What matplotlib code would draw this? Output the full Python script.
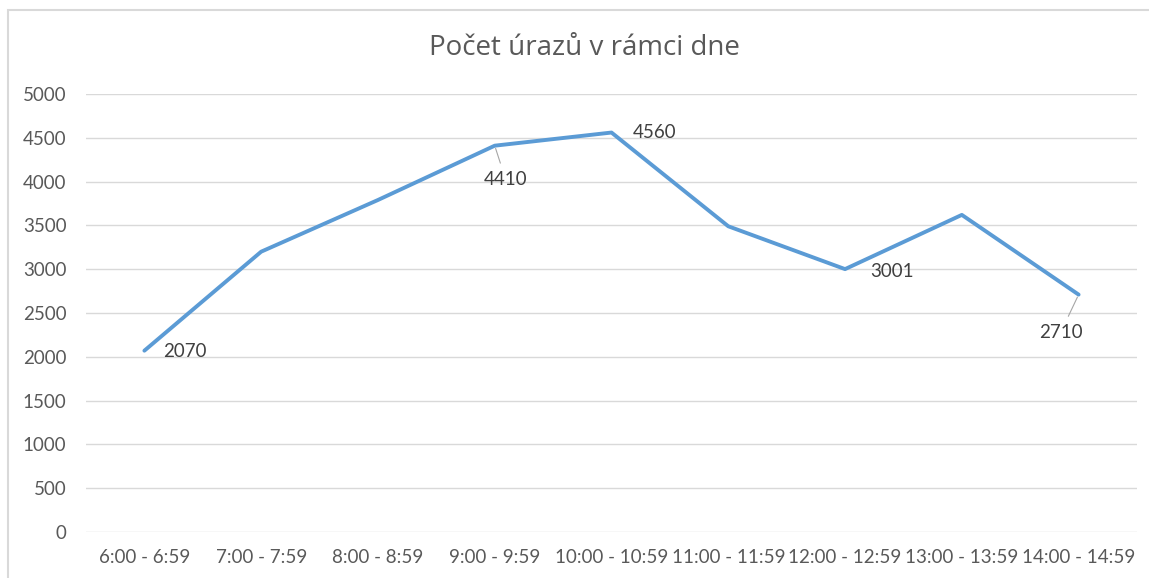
import matplotlib
matplotlib.use("Agg")
import matplotlib.pyplot as plt
from matplotlib.patches import Rectangle

categories = ["6:00 - 6:59", "7:00 - 7:59", "8:00 - 8:59", "9:00 - 9:59", "10:00 - 10:59",
              "11:00 - 11:59", "12:00 - 12:59", "13:00 - 13:59", "14:00 - 14:59"]
injuries = [2070, 3200, 3790, 4410, 4560, 3490, 3001, 3620, 2710]
labelled = [0, 3, 4, 6, 8]
yticks = [0, 500, 1000, 1500, 2000, 2500, 3000, 3500, 4000, 4500, 5000]

W, H = 1149, 578
fig = plt.figure(figsize=(W / 100, H / 100), dpi=100)
fig.patch.set_facecolor("white")

# chart frame (only left and top edges visible in the crop)
fig.patches.append(Rectangle((8 / W, -0.2), 1.2, 1.2 - 10 / H, transform=fig.transFigure,
                             fill=False, edgecolor="#d9d9d9", linewidth=1.5))

ax = fig.add_axes([86 / W, 1 - 532 / H, (1137 - 86) / W, (532 - 94) / H])
x = list(range(len(categories)))
ax.plot(x, injuries, color="#5B9BD5", linewidth=2.8, solid_joinstyle="round", solid_capstyle="round")

ax.set_xlim(-0.5, len(categories) - 0.5)
ax.set_ylim(0, 5000)
ax.set_yticks(yticks)
ax.set_xticks(x)
ax.set_xticklabels(categories)
ax.grid(axis="y", color="#d9d9d9", linewidth=1)
ax.set_axisbelow(True)
for s in ax.spines.values():
    s.set_visible(False)
ax.tick_params(length=0, colors="#595959", labelsize=13.5)
ax.tick_params(axis="x", pad=12)
ax.tick_params(axis="y", pad=14)
for t in ax.get_xticklabels() + ax.get_yticklabels():
    t.set_family("Lato")

offsets = {0: (40, -1), 3: (11, -34), 4: (43, 0), 6: (47, -2), 8: (-18, -38)}
for i in labelled:
    dx, dy = offsets[i]
    kw = {}
    if i in (3, 8):
        kw["arrowprops"] = dict(arrowstyle="-", color="#a6a6a6", lw=0.8, shrinkA=4, shrinkB=2)
    ax.annotate(str(injuries[i]), (i, injuries[i]), xytext=(dx, dy), textcoords="offset pixels",
                ha="center", va="center", fontsize=13.5, family="Lato", color="#404040", **kw)

fig.text(584 / W, 1 - 48 / H, "Počet úrazů v rámci dne", ha="center", va="center",
         fontsize=20, family="Open Sans", color="#595959")

fig.savefig("out.png", dpi=100)
